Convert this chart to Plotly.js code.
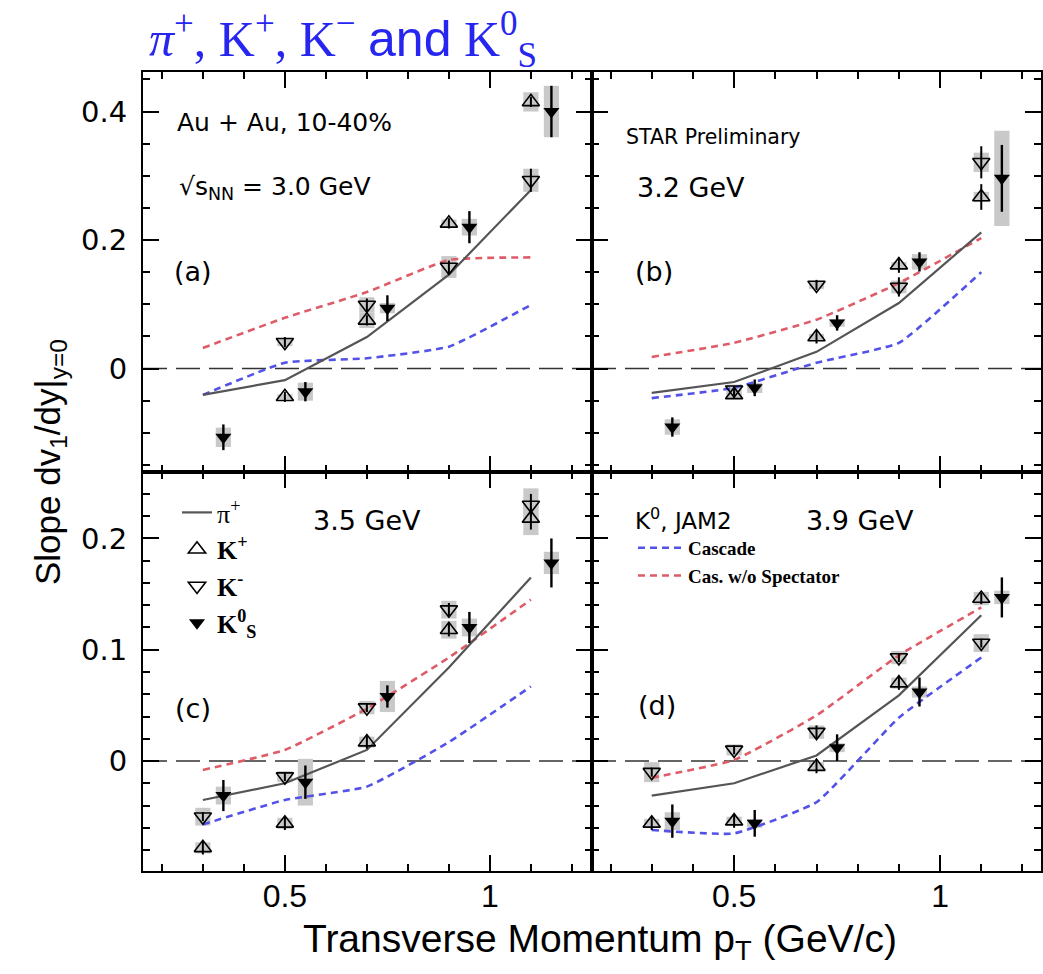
<!DOCTYPE html>
<html><head><meta charset="utf-8">
<script src="https://cdn.plot.ly/plotly-3.0.1.min.js"></script>
<style>html,body{margin:0;padding:0;background:#fff}#chart{width:1043px;height:974px}</style>
</head><body><div id="chart"></div>
<script>
// ---------- data ----------
const ptK  = [0.3, 0.5, 0.7, 0.9, 1.1];      // K+, K-, pi+, JAM pT points
const ptK0 = [0.35, 0.55, 0.75, 0.95, 1.15]; // K0S pT points (shifted)

const xTickVals = [0.5, 1];
const xTickText = ['0.5', '1'];
const yTopTickVals = [0, 0.2, 0.4];
const yTopTickText = ['0', '0.2', '0.4'];
const yTopUnlabeledMajor = [-0.1, 0.1, 0.3];
const yBotTickVals = [0, 0.1, 0.2];
const yBotTickText = ['0', '0.1', '0.2'];

// (a) 3.0 GeV
const piA = [-0.041, -0.018, 0.049, 0.146, 0.278];
const kpA = [null, -0.044, 0.075, 0.226, 0.415];
const kmA = [null, 0.041, 0.099, 0.158, 0.293];
const k0A = [-0.107, -0.036, 0.094, 0.220, 0.400];
const kpErrA = [null, 0.008, 0.008, 0.008, 0.008];
const kmErrA = [null, 0.008, 0.010, 0.010, 0.018];
const k0ErrA = [0.020, 0.015, 0.020, 0.025, 0.040];
const kpSysA = [null, 0.004, 0.012, 0.006, 0.015];
const kmSysA = [null, 0.006, 0.012, 0.017, 0.018];
const k0SysA = [0.015, 0.014, 0.008, 0.013, 0.040];
const casA = [-0.041, 0.009, 0.016, 0.034, 0.099];
const casNoSpA = [0.032, 0.079, 0.119, 0.169, 0.173];

// (b) 3.2 GeV
const piB = [-0.038, -0.021, 0.026, 0.102, 0.212];
const kpB = [null, -0.041, 0.049, 0.161, 0.267];
const kmB = [null, -0.033, 0.130, 0.127, 0.321];
const k0B = [-0.091, -0.030, 0.071, 0.166, 0.296];
const kpErrB = [null, 0.006, 0.010, 0.012, 0.020];
const kmErrB = [null, 0.006, 0.008, 0.015, 0.025];
const k0ErrB = [0.015, 0.013, 0.012, 0.015, 0.052];
const kpSysB = [null, 0.005, 0.005, 0.005, 0.008];
const kmSysB = [null, 0.008, 0.006, 0.010, 0.015];
const k0SysB = [0.012, 0.008, 0.006, 0.012, 0.074];
const casB = [-0.046, -0.030, 0.009, 0.040, 0.150];
const casNoSpB = [0.018, 0.040, 0.076, 0.133, 0.203];

// (c) 3.5 GeV
const piC = [-0.035, -0.020, 0.010, 0.084, 0.165];
const kpC = [-0.078, -0.056, 0.017, 0.118, 0.218];
const kmC = [-0.050, -0.014, 0.048, 0.136, 0.230];
const k0C = [-0.031, -0.019, 0.058, 0.120, 0.178];
const kpErrC = [0.006, 0.006, 0.006, 0.006, 0.010];
const kmErrC = [0.004, 0.004, 0.004, 0.006, 0.010];
const k0ErrC = [0.014, 0.015, 0.010, 0.014, 0.022];
const kpSysC = [0.005, 0.005, 0.005, 0.008, 0.015];
const kmSysC = [0.008, 0.005, 0.006, 0.008, 0.015];
const k0SysC = [0.008, 0.021, 0.014, 0.008, 0.010];
const casC = [-0.057, -0.035, -0.023, 0.017, 0.067];
const casNoSpC = [-0.008, 0.010, 0.047, 0.093, 0.145];

// (d) 3.9 GeV
const piD = [-0.031, -0.020, 0.005, 0.059, 0.131];
const kpD = [-0.056, -0.054, -0.005, 0.070, 0.146];
const kmD = [-0.010, 0.010, 0.026, 0.093, 0.106];
const k0D = [-0.054, -0.056, 0.012, 0.062, 0.147];
const kpErrD = [0.006, 0.006, 0.006, 0.006, 0.005];
const kmErrD = [0.004, 0.004, 0.006, 0.004, 0.004];
const k0ErrD = [0.015, 0.012, 0.012, 0.013, 0.018];
const kpSysD = [0.004, 0.004, 0.004, 0.005, 0.006];
const kmSysD = [0.009, 0.005, 0.006, 0.006, 0.008];
const k0SysD = [0.008, 0.004, 0.004, 0.005, 0.006];
const casD = [-0.062, -0.065, -0.037, 0.039, 0.093];
const casNoSpD = [-0.015, 0.001, 0.041, 0.095, 0.138];

// ---------- styles ----------
const BOX = '#c9c9c9';
const RED = 'rgb(222,92,104)';
const BLUE = 'rgb(82,82,232)';
const PI = '#555555';

const panels = [
  {xa: 'x',  ya: 'y',  pi: piA, kp: kpA, km: kmA, k0: k0A, kpE: kpErrA, kmE: kmErrA, k0E: k0ErrA, kpS: kpSysA, kmS: kmSysA, k0S: k0SysA, cas: casA, nosp: casNoSpA},
  {xa: 'x2', ya: 'y2', pi: piB, kp: kpB, km: kmB, k0: k0B, kpE: kpErrB, kmE: kmErrB, k0E: k0ErrB, kpS: kpSysB, kmS: kmSysB, k0S: k0SysB, cas: casB, nosp: casNoSpB},
  {xa: 'x3', ya: 'y3', pi: piC, kp: kpC, km: kmC, k0: k0C, kpE: kpErrC, kmE: kmErrC, k0E: k0ErrC, kpS: kpSysC, kmS: kmSysC, k0S: k0SysC, cas: casC, nosp: casNoSpC, legK: true},
  {xa: 'x4', ya: 'y4', pi: piD, kp: kpD, km: kmD, k0: k0D, kpE: kpErrD, kmE: kmErrD, k0E: k0ErrD, kpS: kpSysD, kmS: kmSysD, k0S: k0SysD, cas: casD, nosp: casNoSpD, legJ: true}
];

function sysBar(p, xs, vals, sys) {
  return {
    type: 'bar', xaxis: p.xa, yaxis: p.ya, x: xs,
    base: vals.map((v, i) => (v === null ? null : v - sys[i])),
    y: vals.map((v, i) => (v === null ? null : 2 * sys[i])),
    width: 0.037, marker: {color: BOX, line: {width: 0}},
    showlegend: false, hoverinfo: 'skip'
  };
}

const traces = [];
panels.forEach(p => {
  traces.push(sysBar(p, ptK, p.kp, p.kpS));
  traces.push(sysBar(p, ptK, p.km, p.kmS));
  traces.push(sysBar(p, ptK0, p.k0, p.k0S));
});
panels.forEach(p => {
  traces.push({type: 'scatter', mode: 'lines', xaxis: p.xa, yaxis: p.ya, x: ptK, y: p.cas,
    line: {color: BLUE, width: 2.6, dash: '7px,5px', shape: 'spline', smoothing: 0.4},
    name: 'Cascade', legend: 'legend2', legendgroup: 'cas', showlegend: !!p.legJ});
  traces.push({type: 'scatter', mode: 'lines', xaxis: p.xa, yaxis: p.ya, x: ptK, y: p.nosp,
    line: {color: RED, width: 2.6, dash: '7px,5px', shape: 'spline', smoothing: 0.4},
    name: 'Cas. w/o Spectator', legend: 'legend2', legendgroup: 'nosp', showlegend: !!p.legJ});
});
panels.forEach(p => {
  traces.push({type: 'scatter', mode: 'lines', xaxis: p.xa, yaxis: p.ya, x: ptK, y: p.pi,
    line: {color: PI, width: 2.2}, name: 'π<sup>+</sup>', legend: 'legend', showlegend: !!p.legK});
  traces.push({type: 'scatter', mode: 'markers', xaxis: p.xa, yaxis: p.ya, x: ptK, y: p.kp,
    marker: {symbol: 'triangle-up-open', size: 15, color: 'black', line: {width: 1.6, color: 'black'}},
    error_y: {type: 'data', array: p.kpE, visible: true, color: 'black', thickness: 2, width: 0},
    name: '<b>K<sup>+</sup></b>', legend: 'legend', showlegend: !!p.legK});
  traces.push({type: 'scatter', mode: 'markers', xaxis: p.xa, yaxis: p.ya, x: ptK, y: p.km,
    marker: {symbol: 'triangle-down-open', size: 15, color: 'black', line: {width: 1.6, color: 'black'}},
    error_y: {type: 'data', array: p.kmE, visible: true, color: 'black', thickness: 2, width: 0},
    name: '<b>K<sup>-</sup></b>', legend: 'legend', showlegend: !!p.legK});
  traces.push({type: 'scatter', mode: 'markers', xaxis: p.xa, yaxis: p.ya, x: ptK0, y: p.k0,
    marker: {symbol: 'triangle-down', size: 14, color: 'black'},
    error_y: {type: 'data', array: p.k0E, visible: true, color: 'black', thickness: 2.4, width: 0},
    name: '<b>K<sup>0</sup><sub>S</sub></b>', legend: 'legend', showlegend: !!p.legK});
});

// ---------- axes ----------
const L = 143 / 1043, M = 592 / 1043, R = 1041 / 1043;
const TOP = 1 - 72 / 974, MID = 1 - 472 / 974, BOT = 1 - 871 / 974;

function xAxis(dom, rng, anchor, labels) {
  return {domain: dom, range: rng, anchor: anchor, showticklabels: labels,
    tickmode: 'array', tickvals: xTickVals, ticktext: xTickText,
    ticks: 'inside', ticklen: 16, tickwidth: 2, tickcolor: 'black',
    showline: true, linecolor: 'black', linewidth: 2, mirror: 'allticks',
    showgrid: false, zeroline: false, ticklabelstandoff: -4,
    tickfont: {family: 'Liberation Sans, Arial, sans-serif', size: 32, color: 'black'},
    minor: {tickmode: 'linear', tick0: 0, dtick: 0.1, ticks: 'inside', ticklen: 7, tickwidth: 2, tickcolor: 'black', showgrid: false}};
}
function yAxis(dom, rng, anchor, labels, vals, text, minorStep) {
  return {domain: dom, range: rng, anchor: anchor, showticklabels: labels,
    tickmode: 'array', tickvals: vals, ticktext: text,
    ticks: 'inside', ticklen: 16, tickwidth: 2, tickcolor: 'black',
    showline: true, linecolor: 'black', linewidth: 2, mirror: 'allticks',
    showgrid: false, zeroline: false, ticklabelstandoff: 8,
    tickfont: {family: 'DejaVu Sans, sans-serif', size: 29, color: 'black'},
    minor: {tickmode: 'linear', tick0: 0, dtick: minorStep, ticks: 'inside', ticklen: 7, tickwidth: 2, tickcolor: 'black', showgrid: false}};
}
// extra (unlabelled) long ticks of the top row, drawn by an overlaying axis
function yTickOverlay(over, anchor, dom, rng) {
  return {overlaying: over, anchor: anchor, domain: dom, range: rng, side: 'left',
    tickmode: 'array', tickvals: yTopUnlabeledMajor, showticklabels: false,
    ticks: 'inside', ticklen: 16, tickwidth: 2, tickcolor: 'black',
    showline: true, linecolor: 'black', linewidth: 2, mirror: 'allticks',
    showgrid: false, zeroline: false};
}

const rngXL = [0.154, 1.249], rngXR = [0.155, 1.245];
const rngYT = [-0.161, 0.4615], rngYB = [-0.0988, 0.2597];

const SANS = 'DejaVu Sans, sans-serif';
function ann(text, x, y, size, xanchor, extra) {
  return Object.assign({text: text, x: x / 1043, y: 1 - y / 974, xref: 'paper', yref: 'paper',
    xanchor: xanchor, yanchor: 'middle', showarrow: false,
    font: {family: SANS, size: size, color: 'black'}}, extra || {});
}

const annotations = [
  ann('<i>π</i><sup>+</sup>, K<sup>+</sup>, K<sup>−</sup> <span style="font-family:Liberation Sans">and</span> K<sup>0</sup><sub>S</sub>',
      147, 40, 50, 'left', {font: {family: 'Liberation Serif, serif', size: 50, color: 'rgb(38,38,240)'}}),
  ann('Slope dv<sub>1</sub>/dy|<sub>y=0</sub>', 50, 462, 35, 'center', {textangle: -90, font: {family: 'Liberation Sans, Arial, sans-serif', size: 35, color: 'black'}}),
  ann('Transverse Momentum p<sub>T</sub> (GeV/c)', 600, 941, 39, 'center', {font: {family: 'Liberation Sans, Arial, sans-serif', size: 39, color: 'black'}}),
  ann('Au + Au, 10-40%', 175, 122, 25, 'left'),
  ann('√s<sub>NN</sub> = 3.0 GeV', 177, 188, 25, 'left'),
  ann('(a)', 193, 272, 27, 'center'),
  ann('STAR Preliminary', 624, 137, 20.5, 'left'),
  ann('3.2 GeV', 691, 188, 27, 'center'),
  ann('(b)', 654, 272, 27, 'center'),
  ann('3.5 GeV', 367, 520, 27, 'center'),
  ann('(c)', 193, 708, 27, 'center'),
  ann('3.9 GeV', 860, 520, 27, 'center'),
  ann('(d)', 657, 705, 27, 'center')
];

function zeroLine(xa, ya) {
  return {type: 'line', xref: xa + ' domain', yref: ya, x0: 0, x1: 1, y0: 0, y1: 0,
    line: {color: '#333333', width: 1.6, dash: '24px,9px'}, layer: 'below'};
}

const layout = {
  width: 1043, height: 974, margin: {l: 0, r: 0, t: 0, b: 0},
  paper_bgcolor: 'white', plot_bgcolor: 'white',
  barmode: 'overlay', showlegend: true,
  xaxis:  xAxis([L, M], rngXL, 'y', false),
  yaxis:  yAxis([MID, TOP], rngYT, 'x', true, yTopTickVals, yTopTickText, 0.05),
  xaxis2: xAxis([M, R], rngXR, 'y2', false),
  yaxis2: yAxis([MID, TOP], rngYT, 'x2', false, yTopTickVals, yTopTickText, 0.05),
  xaxis3: xAxis([L, M], rngXL, 'y3', true),
  yaxis3: yAxis([BOT, MID], rngYB, 'x3', true, yBotTickVals, yBotTickText, 0.02),
  xaxis4: xAxis([M, R], rngXR, 'y4', true),
  yaxis4: yAxis([BOT, MID], rngYB, 'x4', false, yBotTickVals, yBotTickText, 0.02),
  yaxis5: yTickOverlay('y', 'x', [MID, TOP], rngYT),
  yaxis6: yTickOverlay('y2', 'x2', [MID, TOP], rngYT),
  legend: {x: 177 / 1043, y: 1 - 489 / 974, xanchor: 'left', yanchor: 'top',
    bgcolor: 'rgba(0,0,0,0)', borderwidth: 0, itemwidth: 30, tracegroupgap: 0,
    font: {family: 'Liberation Serif, serif', size: 26, color: 'black'}},
  legend2: {x: 633 / 1043, y: 1 - 499 / 974, xanchor: 'left', yanchor: 'top',
    bgcolor: 'rgba(0,0,0,0)', borderwidth: 0, itemwidth: 45, tracegroupgap: 0,
    traceorder: 'grouped',
    title: {text: 'K<sup>0</sup>, JAM2', font: {family: SANS, size: 23, color: 'black', weight: 'normal'}},
    font: {family: 'Liberation Serif, serif', size: 19, color: 'black', weight: 'bold'}},
  annotations: annotations,
  shapes: [zeroLine('x', 'y'), zeroLine('x2', 'y2'), zeroLine('x3', 'y3'), zeroLine('x4', 'y4')]
};

Plotly.newPlot('chart', traces, layout, {displayModeBar: false, staticPlot: true});
</script>
</body></html>
